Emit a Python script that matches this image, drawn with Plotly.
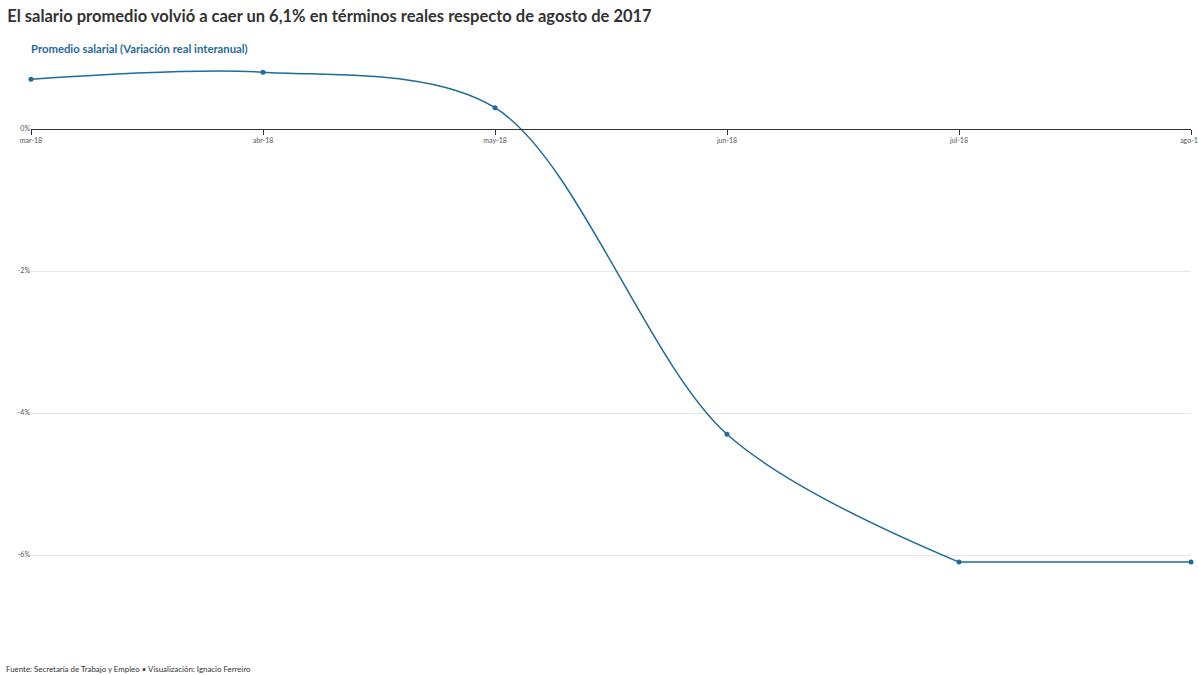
import plotly.graph_objects as go

# Promedio salarial, variación real interanual (%)
meses = ["mar-18", "abr-18", "may-18", "jun-18", "jul-18", "ago-18"]
variacion = [0.70, 0.80, 0.30, -4.30, -6.10, -6.10]
y_ticks = [0, -2, -4, -6]
y_tick_labels = ["0%", "-2%", "-4%", "-6%"]

azul = "#1f6b9a"
y_min, y_max = -7, 1

fig = go.Figure()
# tramo curvo hasta jul-18, tramo final plano
fig.add_trace(go.Scatter(
    x=meses[:5], y=variacion[:5], mode="lines",
    line=dict(color=azul, width=1.5, shape="spline", smoothing=0.9),
    hoverinfo="skip", cliponaxis=False,
))
fig.add_trace(go.Scatter(
    x=meses[4:], y=variacion[4:], mode="lines",
    line=dict(color=azul, width=1.5),
    hoverinfo="skip", cliponaxis=False,
))
fig.add_trace(go.Scatter(
    x=meses, y=variacion, mode="markers",
    marker=dict(color=azul, size=5),
    hoverinfo="x+y", cliponaxis=False,
))

fig.update_layout(
    width=1198, height=675,
    margin=dict(l=31, r=7, t=58, b=49),
    paper_bgcolor="white", plot_bgcolor="white",
    font=dict(family="Lato, 'Open Sans', sans-serif", color="#333"),
    showlegend=False,
    title=dict(
        text="<b>El salario promedio volvió a caer un 6,1% en términos reales respecto de agosto de 2017</b>",
        x=0.006, xanchor="left", y=0.984, yanchor="top",
        font=dict(size=16.5, color="#333"),
    ),
    xaxis=dict(
        type="category", range=[0, len(meses) - 1],
        anchor="free", position=(0 - y_min) / (y_max - y_min),
        showline=True, linecolor="#333", linewidth=1,
        ticks="outside", ticklen=5, tickcolor="#333",
        tickfont=dict(size=7, color="#555"),
        showgrid=False, zeroline=False, automargin=False,
    ),
    yaxis=dict(
        range=[y_min, y_max], tickvals=y_ticks, ticktext=y_tick_labels,
        tickfont=dict(size=7, color="#555"),
        showgrid=True, gridcolor="#e6e6e6", gridwidth=1,
        zeroline=False, showline=False, ticks="", automargin=False,
    ),
    annotations=[
        dict(text="<b>Promedio salarial (Variación real interanual)</b>",
             xref="paper", yref="paper", x=-0.002, y=1.0, xanchor="left", yanchor="bottom",
             yshift=1, showarrow=False, font=dict(size=11.3, color=azul)),
        dict(text="Fuente: Secretaría de Trabajo y Empleo • Visualización: Ignacio Ferreiro",
             xref="paper", yref="paper", x=-0.023, y=-0.064, xanchor="left", yanchor="top",
             showarrow=False, font=dict(size=7.9, color="#333")),
    ],
)

fig.write_html("out.html", config={"displayModeBar": False},
               post_script="document.body.style.margin='0';")
